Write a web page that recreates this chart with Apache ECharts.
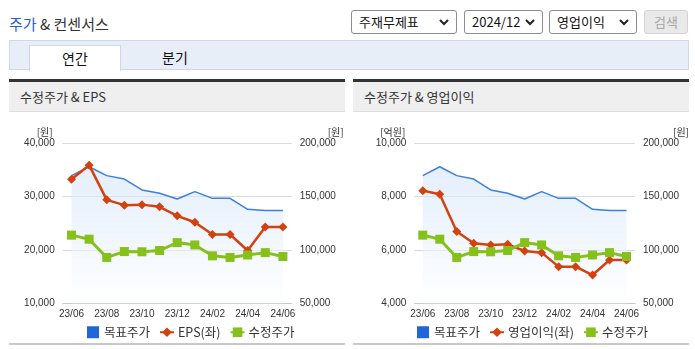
<!DOCTYPE html>
<html><head><meta charset="utf-8">
<script src="https://cdn.jsdelivr.net/npm/echarts@6/dist/echarts.min.js"></script>
<style>
html,body{margin:0;padding:0}
body{width:695px;height:349px;overflow:hidden;background:#fff;position:relative;font-family:"Noto Sans CJK KR","Liberation Sans",sans-serif;color:#333}
.abs{position:absolute}
.sel{position:absolute;top:10px;height:24px;box-sizing:border-box;border:1px solid #8d8d8d;border-radius:3px;font-size:13px;line-height:22px;padding-left:7px;color:#111;background:#fff}
.sel svg{position:absolute;right:7px;top:8px}
.btn{position:absolute;top:10px;height:24px;box-sizing:border-box;border:1px solid #d3d3d3;border-radius:3px;background:#e9e9e9;color:#a8a8a8;font-size:13px;line-height:22px;text-align:center}
.panel{position:absolute;top:79px;width:336px;height:33px;box-sizing:border-box;border-top:3px solid #333;background:#efefef;border-bottom:1px solid #dedede;font-size:13px;line-height:29px;padding-left:11px;color:#333}
.bot{position:absolute;top:343px;height:2px;width:336px;background:#c9c9c9}
</style>
</head><body>
<div class="abs" style="left:9px;top:14px;font-size:15px;line-height:20px;color:#333"><span style="color:#1f5fd6">주가</span> &amp; 컨센서스</div>
<div class="sel" style="left:351px;width:106px">주재무제표<svg width="10" height="7" viewBox="0 0 10 7"><polyline points="1,1 5,5 9,1" fill="none" stroke="#222" stroke-width="2"/></svg></div>
<div class="sel" style="left:464px;width:79px">2024/12<svg width="10" height="7" viewBox="0 0 10 7"><polyline points="1,1 5,5 9,1" fill="none" stroke="#222" stroke-width="2"/></svg></div>
<div class="sel" style="left:549px;width:88px">영업이익<svg width="10" height="7" viewBox="0 0 10 7"><polyline points="1,1 5,5 9,1" fill="none" stroke="#222" stroke-width="2"/></svg></div>
<div class="btn" style="left:644px;width:44px">검색</div>
<div class="abs" style="left:9px;top:40px;width:680px;height:30px;box-sizing:border-box;border:1px solid #cfd8e8;background:#e8eef8"></div>
<div class="abs" style="left:29px;top:45px;width:92px;height:26px;box-sizing:border-box;border:1px solid #cfd8e8;border-bottom:none;background:#fff;text-align:center;font-size:14px;line-height:24px;color:#111">연간</div>
<div class="abs" style="left:135px;top:45px;width:80px;height:25px;text-align:center;font-size:14px;line-height:24px;color:#111">분기</div>
<div class="panel" style="left:9px">수정주가 &amp; EPS</div>
<div class="panel" style="left:353px">수정주가 &amp; 영업이익</div>
<div class="bot" style="left:9px"></div>
<div class="bot" style="left:353px"></div>
<div id="chart" style="position:absolute;left:0;top:112px;width:695px;height:237px"></div>
<script>
const months = ['23/06','23/07','23/08','23/09','23/10','23/11','23/12','24/01','24/02','24/03','24/04','24/05','24/06'];
const targetPrice = [169700,178000,169700,166500,156300,153100,147800,154700,148400,148400,138100,137000,136900];
const eps = [33250,35900,29400,28400,28500,28100,26400,25200,22900,22900,19900,24300,24300];
const adjPrice = [113900,110100,93000,98500,98300,99500,106900,104700,94500,93000,95300,97500,93900];
const opProfit = [8225,8090,6690,6250,6190,6210,5960,5900,5375,5375,5060,5625,5625];
const leftNames = ['목표주가','EPS(좌)','수정주가'];
const rightNames = ['목표주가','영업이익(좌)','수정주가'];

const FONT = '"Liberation Sans Narrow","Liberation Sans","Noto Sans CJK KR",sans-serif';
const KFONT = '"Noto Sans CJK KR","Liberation Sans",sans-serif';
const BLUE = '#3d7fe0', RED = '#d2410f', GREEN = '#86c01a';
const fmt = v => v.toLocaleString('en-US');

function xAxis(gi){
  return {type:'category', gridIndex:gi, data:months, boundaryGap:true,
    axisLine:{lineStyle:{color:'#c3c9d6'}},
    axisTick:{length:4, interval:(i)=> i===0 || i%2===1, lineStyle:{color:'#c3c9d6'}},
    axisLabel:{interval:1, fontSize:10, color:'#333', margin:6, fontFamily:FONT}};
}
function yLeft(gi,min,max,step,name,pad){
  return {type:'value', gridIndex:gi, position:'left', min, max, interval:step, name,
    nameLocation:'end', nameGap:6,
    nameTextStyle:{fontSize:10, color:'#333', align:'right', padding:[0,pad,0,0], fontFamily:KFONT},
    axisLine:{show:false}, axisTick:{show:false},
    axisLabel:{fontSize:10, color:'#333', margin:8, fontFamily:FONT, formatter:fmt},
    splitLine:{lineStyle:{color:'#dadada'}}};
}
function yRight(gi,pad){
  return {type:'value', gridIndex:gi, position:'right', min:50000, max:200000, interval:50000, name:'[원]',
    nameLocation:'end', nameGap:6,
    nameTextStyle:{fontSize:10, color:'#333', align:'left', padding:[0,0,0,pad], fontFamily:KFONT},
    axisLine:{show:false}, axisTick:{show:false},
    axisLabel:{fontSize:10, color:'#333', margin:8, fontFamily:FONT, formatter:fmt},
    splitLine:{show:false}};
}
function seriesFor(gi, names, leftData){
  const yl = gi*2, yr = gi*2+1;
  return [
    {name:names[0], type:'line', xAxisIndex:gi, yAxisIndex:yr, data:targetPrice, showSymbol:false, symbol:'none',
      lineStyle:{color:BLUE, width:1.5}, itemStyle:{color:BLUE},
      areaStyle:{origin:'start', color:new echarts.graphic.LinearGradient(0,0,0,1,[{offset:0,color:'rgba(205,224,247,0.75)'},{offset:1,color:'rgba(255,255,255,0.9)'}])},
      z:2},
    {name:names[1], type:'line', xAxisIndex:gi, yAxisIndex:yl, data:leftData, symbol:'diamond', symbolSize:9,
      lineStyle:{color:RED, width:2.5}, itemStyle:{color:RED}, z:3},
    {name:names[2], type:'line', xAxisIndex:gi, yAxisIndex:yr, data:adjPrice, symbol:'rect', symbolSize:9,
      lineStyle:{color:GREEN, width:3}, itemStyle:{color:GREEN}, z:4}
  ];
}
function legend(left, names){
  return {left, top:209, itemWidth:14, itemHeight:12, itemGap:9,
    textStyle:{fontSize:12.5, color:'#333', fontFamily:KFONT, padding:[0,0,0,-1]},
    data:[{name:names[0], icon:'path://M0,0H10V10H0Z', itemStyle:{color:'#2166d8'}}, {name:names[1]}, {name:names[2]}]};
}

const chart = echarts.init(document.getElementById('chart'), null, {renderer:'canvas'});
chart.setOption({
  animation:false,
  grid:[
    {left:62.7, top:31.3, width:229, height:160},
    {left:414.3, top:31.3, width:220.7, height:160}
  ],
  legend:[legend(82, leftNames), legend(412, rightNames)],
  xAxis:[xAxis(0), xAxis(1)],
  yAxis:[
    yLeft(0,10000,40000,10000,'[원]',10), yRight(0,36),
    yLeft(1,4000,10000,2000,'[억원]',9), yRight(1,38)
  ],
  series:[...seriesFor(0,leftNames,eps), ...seriesFor(1,rightNames,opProfit)]
});
</script>
</body></html>
